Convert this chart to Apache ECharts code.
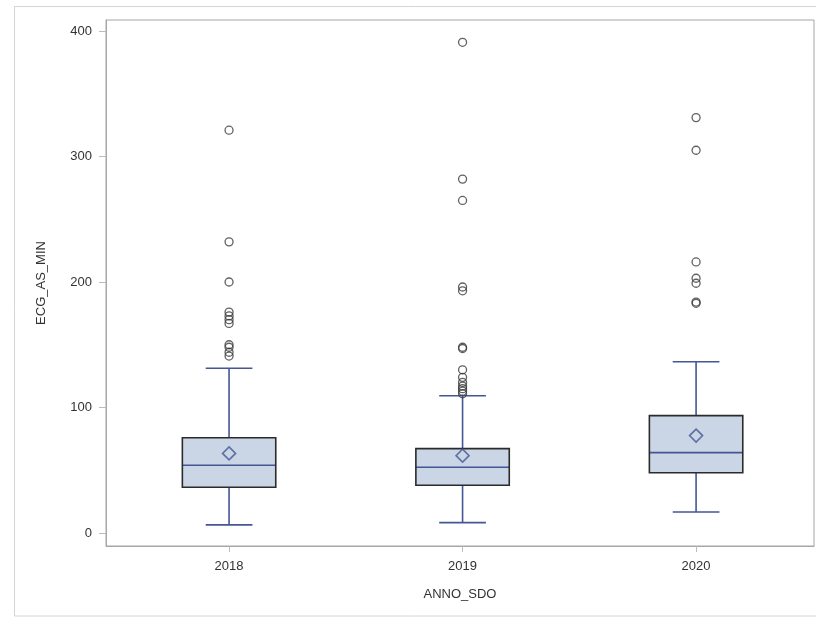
<!DOCTYPE html>
<html>
<head>
<meta charset="utf-8">
<script src="https://cdn.jsdelivr.net/npm/echarts@6/dist/echarts.min.js"></script>
<style>html,body{margin:0;padding:0;background:#fff;}#chart{width:816px;height:618px;}</style>
</head>
<body>
<div id="chart"></div>
<script>
var categories = ['2018', '2019', '2020'];
var whiskerLow = [6.4, 8.2, 16.7];
var q1 = [36.4, 38.0, 48.0];
var median = [53.9, 52.4, 64.0];
var q3 = [75.9, 67.2, 93.5];
var whiskerHigh = [131.2, 109.4, 136.4];
var mean = [63.4, 61.6, 77.6];
var outliers2018 = [321, 232, 200, 176, 173, 170, 167, 150, 148, 144, 141];
var outliers2019 = [391, 282, 265, 196, 193, 148, 147, 130, 124, 120, 117, 115, 113, 111];
var outliers2020 = [331, 305, 216, 203, 199, 184, 183];
var yTicks = [0, 100, 200, 300, 400];
var xTicks = [0, 1, 2];

var outlierLists = [outliers2018, outliers2019, outliers2020];
var outlierData = [];
outlierLists.forEach(function (list, i) {
  list.forEach(function (v) { outlierData.push([i, v]); });
});
var boxData = categories.map(function (c, i) {
  return [i, whiskerLow[i], q1[i], median[i], q3[i], whiskerHigh[i]];
});
var meanData = mean.map(function (v, i) { return [i, v]; });

var lineBlue = '#445694';
var boxFill = '#CAD5E5';

var chart = echarts.init(document.getElementById('chart'));
chart.setOption({
  animation: false,
  backgroundColor: '#ffffff',
  graphic: [{
    type: 'rect', shape: {x: 14.5, y: 6.5, width: 820, height: 609.5},
    style: {fill: 'none', stroke: '#d4d4d4', lineWidth: 1}, z: -1
  }],
  grid: {left: 106, right: 2, top: 20, bottom: 72, show: true, borderColor: '#a6a6a6', borderWidth: 1},
  xAxis: {
    type: 'value', min: -0.527, max: 2.505,
    name: 'ANNO_SDO', nameLocation: 'middle', nameGap: 42,
    nameTextStyle: {color: '#333', fontSize: 13, fontFamily: 'Liberation Sans, Arial'},
    axisLine: {show: true, onZero: false, lineStyle: {color: '#a6a6a6'}},
    axisTick: {show: true, customValues: xTicks, length: 6, lineStyle: {color: '#bbbbbb'}},
    axisLabel: {customValues: xTicks, margin: 14, color: '#333', fontSize: 13, fontFamily: 'Liberation Sans, Arial',
      formatter: function (v) { return categories[Math.round(v)] || ''; }},
    splitLine: {show: false}
  },
  yAxis: {
    type: 'value', min: -10.4, max: 408.8,
    name: 'ECG_AS_MIN', nameLocation: 'middle', nameGap: 58, nameRotate: 90,
    nameTextStyle: {color: '#333', fontSize: 13, fontFamily: 'Liberation Sans, Arial'},
    axisLine: {show: true, onZero: false, lineStyle: {color: '#a6a6a6'}},
    axisTick: {show: true, customValues: yTicks, length: 7, lineStyle: {color: '#bbbbbb'}},
    axisLabel: {customValues: yTicks, margin: 14, color: '#333', fontSize: 13, fontFamily: 'Liberation Sans, Arial'},
    splitLine: {show: false}
  },
  series: [
    {
      type: 'custom',
      data: boxData,
      encode: {x: 0, y: [1, 2, 3, 4, 5]},
      renderItem: function (params, api) {
        var x = api.value(0);
        var band = api.size([1, 0])[0];
        var half = band * 0.2;
        var cap = band * 0.1;
        var pLow = api.coord([x, api.value(1)]);
        var pQ1 = api.coord([x, api.value(2)]);
        var pMed = api.coord([x, api.value(3)]);
        var pQ3 = api.coord([x, api.value(4)]);
        var pHigh = api.coord([x, api.value(5)]);
        var cx = pMed[0];
        var ls = {stroke: lineBlue, lineWidth: 1.6};
        return {
          type: 'group',
          children: [
            {type: 'line', shape: {x1: cx, y1: pQ1[1], x2: cx, y2: pLow[1]}, style: ls},
            {type: 'line', shape: {x1: cx, y1: pQ3[1], x2: cx, y2: pHigh[1]}, style: ls},
            {type: 'line', shape: {x1: cx - cap, y1: pLow[1], x2: cx + cap, y2: pLow[1]}, style: ls},
            {type: 'line', shape: {x1: cx - cap, y1: pHigh[1], x2: cx + cap, y2: pHigh[1]}, style: ls},
            {type: 'rect', shape: {x: cx - half, y: pQ3[1], width: 2 * half, height: pQ1[1] - pQ3[1]},
              style: {fill: boxFill, stroke: 'none'}},
            {type: 'line', shape: {x1: cx - half, y1: pMed[1], x2: cx + half, y2: pMed[1]}, style: ls},
            {type: 'rect', shape: {x: cx - half, y: pQ3[1], width: 2 * half, height: pQ1[1] - pQ3[1]},
              style: {fill: 'none', stroke: '#2b2b2b', lineWidth: 1.6}}
          ]
        };
      }
    },
    {
      type: 'scatter',
      data: meanData,
      symbol: 'diamond',
      symbolSize: [13, 13],
      itemStyle: {color: 'rgba(0,0,0,0)', borderColor: lineBlue, borderWidth: 1.6},
      z: 5
    },
    {
      type: 'scatter',
      data: outlierData,
      symbol: 'circle',
      symbolSize: 8,
      itemStyle: {color: 'rgba(0,0,0,0)', borderColor: '#3a3a3a', borderWidth: 1.3},
      z: 5
    }
  ]
});
</script>
</body>
</html>
